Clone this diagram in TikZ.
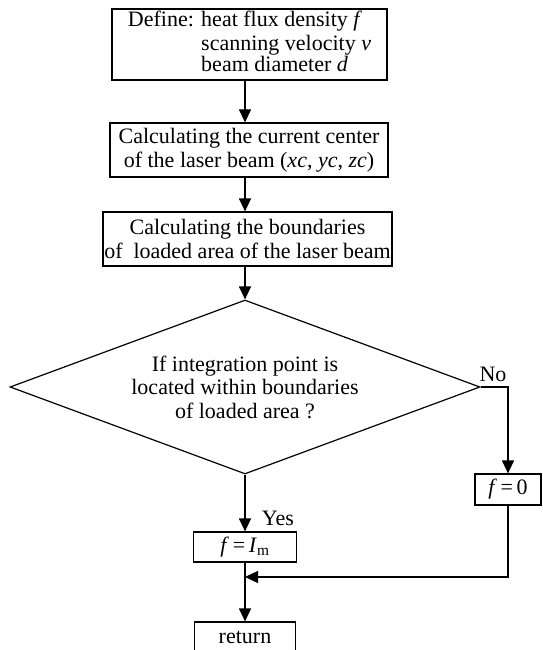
\documentclass[tikz,border=0pt]{standalone}
\usepackage{fontspec}
\setmainfont{Liberation Serif}
\usepackage{tikz}
\usetikzlibrary{arrows.meta, shapes.geometric}

\begin{document}
\begin{tikzpicture}[
    x=1pt, y=-1pt,
    every node/.style={font=\fontsize{22}{23.5}\selectfont},
    box/.style={rectangle, draw, line width=1.2pt, inner sep=0pt, align=center},
    decision/.style={diamond, draw, line width=1.2pt, inner sep=0pt, aspect=2.7, align=center},
    arr/.style={line width=1.2pt, -{Triangle[length=13pt, width=12pt]}},
    tag/.style={inner sep=0pt},
]
\useasboundingbox (0,0) rectangle (542,650);

% Process boxes
\node[box, minimum width=275pt, minimum height=71pt] (define) at (249.5,44.5)
  {\begin{tabular}{@{}l@{ }l@{}}
   Define: & heat flux density \textit{f}\\[0pt]
           & scanning velocity \textit{v}\\[-2pt]
           & beam diameter \textit{d}
   \end{tabular}};
\node[box, minimum width=278pt, minimum height=54pt] (center) at (249,150)
  {Calculating the current center\\of the laser beam (\textit{xc}, \textit{yc}, \textit{zc})};
\node[box, minimum width=289pt, minimum height=54pt] (bounds) at (247.5,239)
  {Calculating the boundaries\\of\ \ loaded area of the laser beam};

% Decision
\node[decision, minimum width=470pt, minimum height=174pt] (check) at (245,387)
  {If integration point is\\located within boundaries\\of loaded area ?};

% Results
\node[box, minimum width=66pt, minimum height=31pt] (zero) at (508,489.5)
  {\textit{f}\,=\,0};
\node[box, minimum width=103pt, minimum height=30pt] (full) at (245,547)
  {\textit{f}\,=\,\textit{I}\textsubscript{m}};
\node[box, minimum width=101pt, minimum height=30pt] (ret) at (245,637) {return};
\coordinate (join) at (245,577);

% Connectors
\draw[arr] (define.south -| check.north) -- (center.north -| check.north);
\draw[arr] (center.south -| check.north) -- (bounds.north -| check.north);
\draw[arr] (bounds.south -| check.north) -- (check.north);
\draw[arr] (check.east) -| (zero.north);
\draw[arr] (check.south) -- (full.north);
\draw[arr] (zero.south) |- (join);
\draw[arr] (full.south) -- (ret.north);

% Branch labels
\node[tag] (no) at (493,374) {No};
\node[tag] (yes) at (278,518) {Yes};

\end{tikzpicture}
\end{document}
